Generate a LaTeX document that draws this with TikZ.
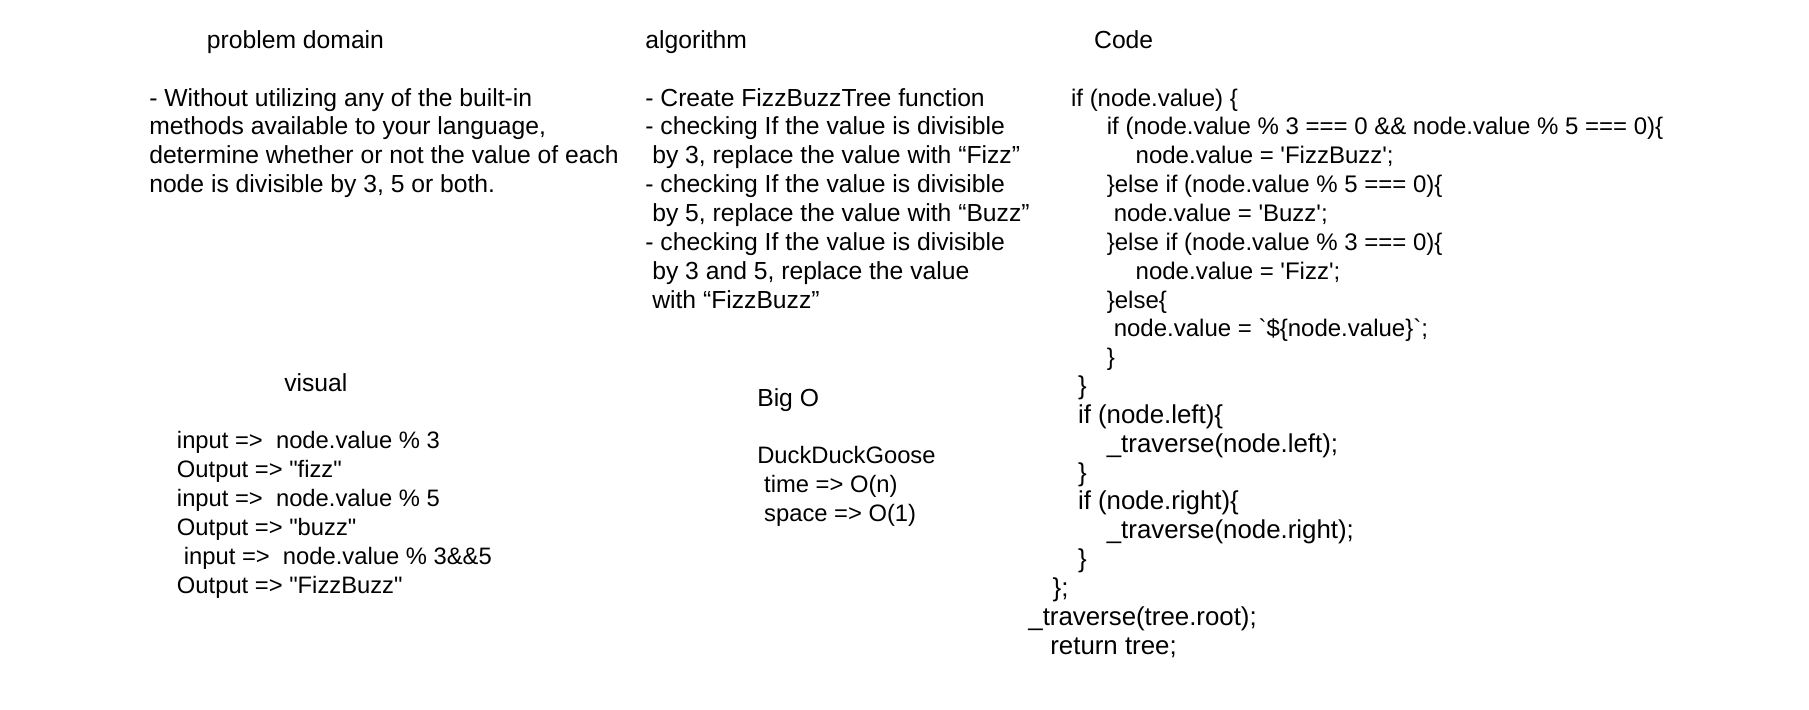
\documentclass[tikz,border=0pt]{standalone}
\usepackage{fontspec}
\newfontfamily\hand{Liberation Sans}
\begin{document}
\begin{tikzpicture}[x=0.5pt,y=-0.5pt,
  txt/.style={anchor=base west, inner sep=0pt, font=\hand\fontsize{10.7}{13}\selectfont},
  smalltxt/.style={anchor=base west, inner sep=0pt, font=\hand\fontsize{10.3}{13}\selectfont},
  codetxt/.style={anchor=base west, inner sep=0pt, font=\hand\fontsize{10.4}{13}\selectfont},
  codelow/.style={anchor=base west, inner sep=0pt, font=\hand\fontsize{11.2}{13}\selectfont}]
\path[use as bounding box, fill=white] (0,0) rectangle (1568,615.4);
% titles
\node[txt] (tpd) at (179,42) {problem domain};
\node[txt] (tal) at (559,42) {algorithm};
\node[txt] (tco) at (948,42) {Code};
\node[txt] (tvi) at (246,339) {visual};
\node[txt] (tbo) at (656,352) {Big O};
% problem domain
\node[txt] (pd1) at (129,92) {- Without utilizing any of the built-in};
\node[txt] (pd2) at (129,117) {methods available to your language,};
\node[txt] (pd3) at (129,142) {determine whether or not the value of each};
\node[txt] (pd4) at (129,167) {node is divisible by 3, 5 or both.};
% algorithm
\node[txt] (al1) at (559,92) {- Create FizzBuzzTree function};
\node[txt] (al2) at (559,117) {- checking If the value is divisible};
\node[txt] (al3) at (565,142) {by 3, replace the value with “Fizz”};
\node[txt] (al4) at (559,167) {- checking If the value is divisible};
\node[txt] (al5) at (565,192) {by 5, replace the value with “Buzz”};
\node[txt] (al6) at (559,217) {- checking If the value is divisible};
\node[txt] (al7) at (565,242) {by 3 and 5, replace the value};
\node[txt] (al8) at (565,267) {with “FizzBuzz”};
% code
\node[codetxt] (c1) at (928,92) {if (node.value) \{};
\node[codetxt] (c2) at (959,117) {if (node.value \% 3 === 0 \&\& node.value \% 5 === 0)\{};
\node[codetxt] (c3) at (984,142) {node.value = 'FizzBuzz';};
\node[codetxt] (c4) at (959,167) {\}else if (node.value \% 5 === 0)\{};
\node[codetxt] (c5) at (965,192) {node.value = 'Buzz';};
\node[codetxt] (c6) at (959,217) {\}else if (node.value \% 3 === 0)\{};
\node[codetxt] (c7) at (984,242) {node.value = 'Fizz';};
\node[codetxt] (c8) at (959,267) {\}else\{};
\node[codetxt] (c9) at (965,292) {node.value = `\$\{node.value\}`;};
\node[codetxt] (c10) at (959,317) {\}};
\node[codelow] (c11) at (934,342) {\}};
\node[codelow] (c12) at (934,367) {if (node.left)\{};
\node[codelow] (c13) at (959,392) {\_traverse(node.left);};
\node[codelow] (c14) at (934,417) {\}};
\node[codelow] (c15) at (934,442) {if (node.right)\{};
\node[codelow] (c16) at (959,467) {\_traverse(node.right);};
\node[codelow] (c17) at (934,492) {\}};
\node[codelow] (c18) at (912,517) {\};};
\node[codelow] (c19) at (891,542) {\_traverse(tree.root);};
\node[codelow] (c20) at (910,567) {return tree;};
% visual
\node[smalltxt] (v1) at (153,389) {input =>\ \ node.value \% 3};
\node[smalltxt] (v2) at (153,414) {Output => "fizz"};
\node[smalltxt] (v3) at (153,439) {input =>\ \ node.value \% 5};
\node[smalltxt] (v4) at (153,464) {Output => "buzz"};
\node[smalltxt] (v5) at (159,489) {input =>\ \ node.value \% 3\&\&5};
\node[smalltxt] (v6) at (153,514) {Output => "FizzBuzz"};
% big O
\node[smalltxt] (b1) at (656,402) {DuckDuckGoose};
\node[smalltxt] (b2) at (662,427) {time => O(n)};
\node[smalltxt] (b3) at (662,452) {space => O(1)};
\end{tikzpicture}
\end{document}
